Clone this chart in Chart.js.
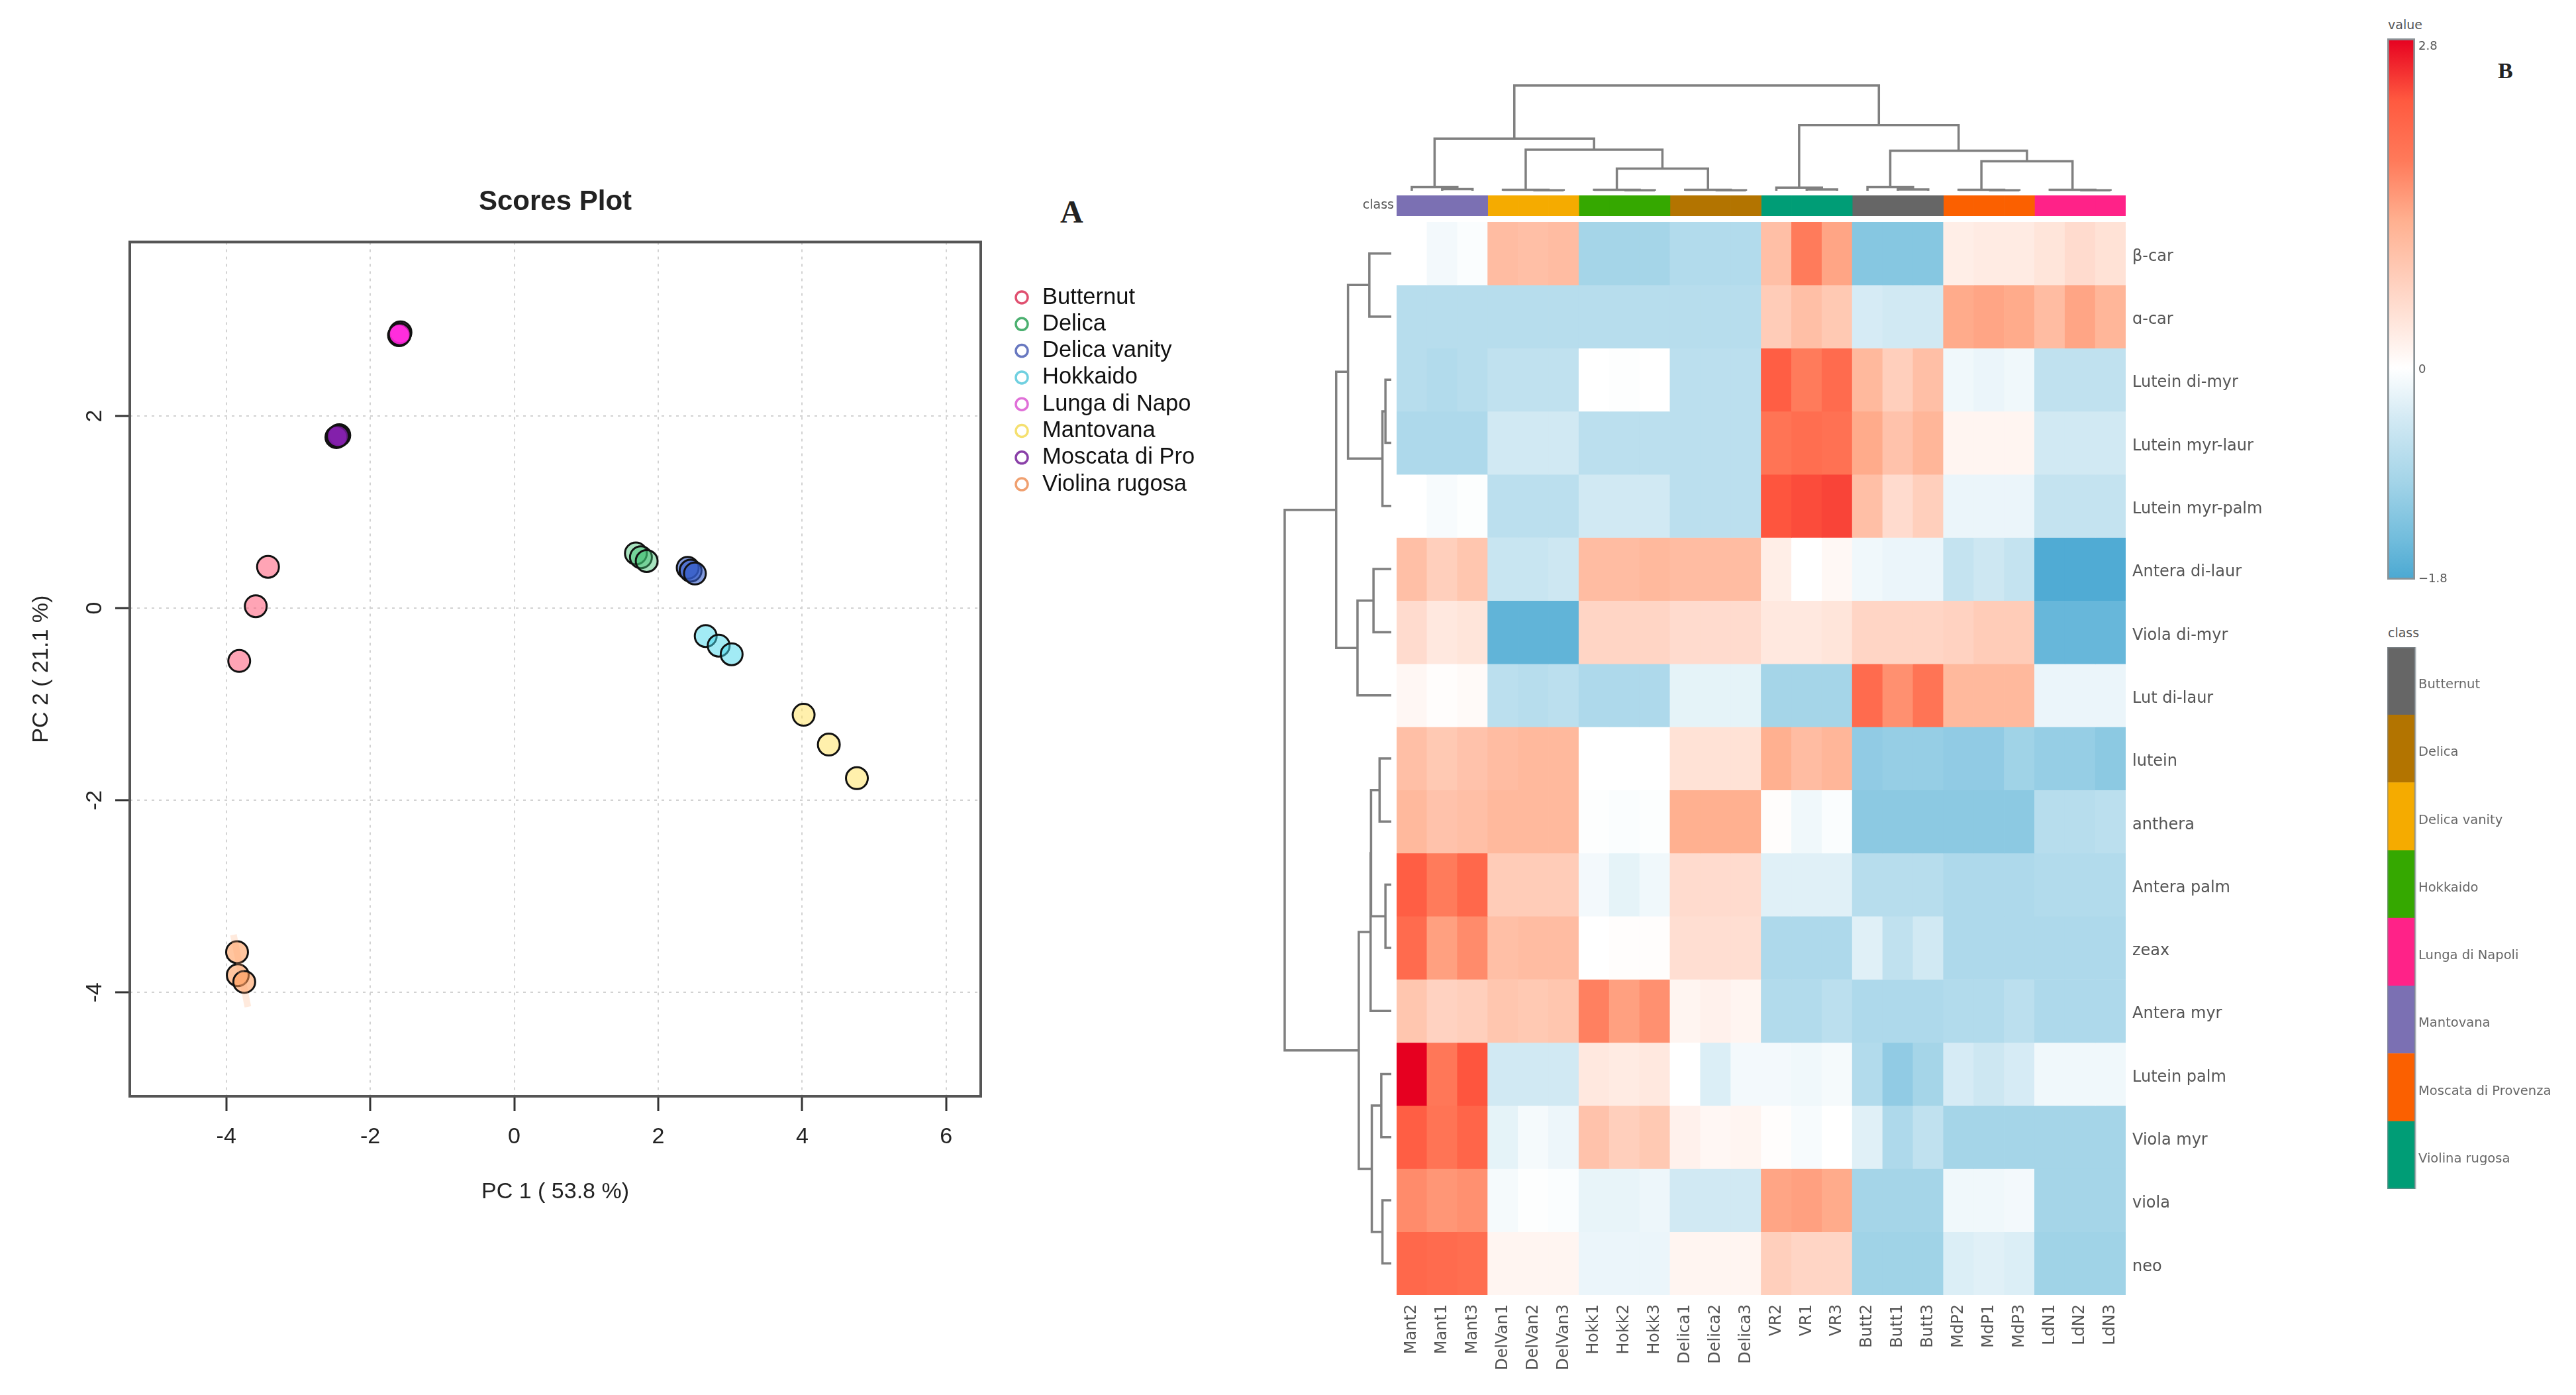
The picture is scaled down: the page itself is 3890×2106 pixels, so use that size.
<!DOCTYPE html>
<html>
<head>
<meta charset="utf-8">
<title>Scores plot and heatmap</title>
<script src="https://cdn.jsdelivr.net/npm/chart.js@4"></script>
<style>
  html, body { margin: 0; width: 3890px; height: 2106px; background: #fff; overflow: hidden; }
  canvas { position: absolute; }
  .note { position: absolute; white-space: nowrap; line-height: 1; }
  .panel { font: bold 48px "Liberation Serif"; color: #222; }
  .small { font: 19px "DejaVu Sans"; color: #555; }
</style>
</head>
<body>
<div class="note panel" style="left:1601px;top:292px">A</div>
<div class="note panel" style="left:3772px;top:88px;font-size:34px">B</div>
<div class="note small" style="left:3606px;top:26px">value</div>
<div class="note small" style="left:3606px;top:944px">class</div>
<script>
// scores plot
const seriesNames = ['Butternut', 'Delica', 'Delica vanity', 'Hokkaido', 'Lunga di Napo', 'Mantovana', 'Moscata di Pro', 'Violina rugosa'];
const butternutX = [-3.42, -3.59, -3.82];
const butternutY = [0.43, 0.02, -0.55];
const delicaX = [1.69, 1.76, 1.84];
const delicaY = [0.57, 0.53, 0.49];
const vanityX = [2.41, 2.45, 2.51];
const vanityY = [0.42, 0.39, 0.36];
const hokkaidoX = [2.66, 2.84, 3.02];
const hokkaidoY = [-0.29, -0.39, -0.48];
const lungaX = [-1.58, -1.6, -1.59];
const lungaY = [2.87, 2.84, 2.85];
const mantovanaX = [4.02, 4.37, 4.76];
const mantovanaY = [-1.11, -1.42, -1.77];
const moscataX = [-2.43, -2.47, -2.45];
const moscataY = [1.8, 1.78, 1.79];
const violinaX = [-3.85, -3.84, -3.75];
const violinaY = [-3.58, -3.82, -3.89];
const violinaSpreadX = [-3.9, -3.7];
const violinaSpreadY = [-3.4, -4.15];
const scoreXTicks = [-4, -2, 0, 2, 4, 6];
const scoreYTicks = [-4, -2, 0, 2];
const seriesFills = ['rgba(255,90,120,.55)', 'rgba(60,190,110,.45)', 'rgba(50,90,200,.6)', 'rgba(70,215,235,.5)',
  'rgba(255,40,220,.7)', 'rgba(255,225,90,.5)', 'rgba(130,30,170,.75)', 'rgba(255,150,80,.55)'];
const seriesRings = ['#e05070', '#4cb070', '#6878c0', '#70d0e0', '#e070d8', '#f5e070', '#8a40a8', '#f0a070'];

// heatmap
const columnNames = ['Mant2', 'Mant1', 'Mant3', 'DelVan1', 'DelVan2', 'DelVan3', 'Hokk1', 'Hokk2', 'Hokk3', 'Delica1', 'Delica2', 'Delica3',
  'VR2', 'VR1', 'VR3', 'Butt2', 'Butt1', 'Butt3', 'MdP2', 'MdP1', 'MdP3', 'LdN1', 'LdN2', 'LdN3'];
const rowNames = ['β-car', 'ɑ-car', 'Lutein di-myr', 'Lutein myr-laur', 'Lutein myr-palm', 'Antera di-laur', 'Viola di-myr', 'Lut di-laur',
  'lutein', 'anthera', 'Antera palm', 'zeax', 'Antera myr', 'Lutein palm', 'Viola myr', 'viola', 'neo'];
const betaCar = [0, -.12, -.05, 1.05, 1, 1.05, -.95, -.95, -.95, -.8, -.8, -.8, 1, 1.75, 1.35, -1.25, -1.25, -1.25, .25, .3, .3, .4, .55, .45];
const alphaCar = [-.75, -.75, -.75, -.75, -.75, -.75, -.75, -.75, -.75, -.75, -.75, -.75, .8, 1, .85, -.4, -.45, -.45, 1.3, 1.35, 1.3, 1.05, 1.35, 1.15];
const luteinDiMyr = [-.75, -.8, -.75, -.65, -.65, -.65, 0, -.02, 0, -.7, -.7, -.7, 2.2, 1.75, 2, 1.1, .75, 1, -.15, -.2, -.15, -.65, -.65, -.65];
const luteinMyrLaur = [-.85, -.85, -.85, -.45, -.45, -.45, -.7, -.7, -.7, -.7, -.7, -.7, 1.85, 1.95, 1.9, 1.3, .95, 1.15, .15, .15, .15, -.45, -.45, -.45];
const luteinMyrPalm = [0, -.08, -.03, -.7, -.7, -.7, -.45, -.45, -.45, -.7, -.7, -.7, 2.3, 2.35, 2.4, 1, .55, .75, -.2, -.2, -.2, -.6, -.6, -.6];
const anteraDiLaur = [1, .75, .9, -.55, -.55, -.5, 1.05, 1.05, 1.1, 1.05, 1.05, 1.05, .25, 0, .1, -.15, -.2, -.2, -.6, -.5, -.6, -1.75, -1.75, -1.75];
const violaDiMyr = [.55, .35, .4, -1.6, -1.6, -1.6, .65, .65, .65, .55, .55, .55, .35, .35, .4, .65, .65, .65, .7, .8, .8, -1.55, -1.55, -1.55];
const lutDiLaur = [.12, .03, .07, -.7, -.75, -.7, -.85, -.85, -.85, -.25, -.25, -.25, -.95, -.95, -.95, 2, 1.55, 1.85, 1.1, 1.1, 1.1, -.2, -.2, -.2];
const luteinFree = [1, .85, .95, 1.05, 1.1, 1.1, 0, 0, 0, .45, .45, .45, 1.25, 1.05, 1.15, -1.15, -1.1, -1.1, -1.15, -1.15, -1, -1.1, -1.1, -1.2];
const antheraFree = [1.1, .95, 1, 1.1, 1.1, 1.1, -.02, -.05, -.03, 1.25, 1.25, 1.25, .03, -.15, -.05, -1.2, -1.2, -1.2, -1.2, -1.2, -1.2, -.75, -.75, -.7];
const anteraPalm = [2.2, 1.75, 2.05, .8, .8, .8, -.12, -.25, -.15, .55, .55, .55, -.3, -.3, -.3, -.75, -.75, -.75, -.85, -.85, -.85, -.8, -.8, -.8];
const zeax = [2, 1.4, 1.6, 1, 1.05, 1.05, 0, .03, .03, .5, .5, .5, -.85, -.85, -.85, -.3, -.65, -.45, -.85, -.85, -.85, -.85, -.85, -.85];
const anteraMyr = [.9, .7, .75, .9, .85, .9, 1.7, 1.4, 1.55, .15, .2, .15, -.8, -.8, -.7, -.85, -.85, -.85, -.8, -.8, -.7, -.85, -.85, -.85];
const luteinPalm = [2.8, 1.8, 2.3, -.45, -.45, -.45, .35, .3, .35, 0, -.35, -.12, -.12, -.15, -.1, -.8, -1.15, -.95, -.4, -.5, -.4, -.15, -.15, -.15];
const violaMyr = [2.2, 1.85, 2.1, -.25, -.1, -.18, .95, .75, .85, .2, .12, .15, .03, -.08, 0, -.3, -.85, -.65, -.95, -.95, -.95, -.95, -.95, -.95];
const violaFree = [1.6, 1.5, 1.55, -.1, -.02, -.05, -.22, -.22, -.18, -.45, -.45, -.45, 1.35, 1.4, 1.3, -.95, -.95, -.95, -.15, -.15, -.12, -.95, -.95, -.95];
const neo = [2.05, 2, 1.95, .15, .15, .15, -.2, -.2, -.2, .15, .15, .15, .75, .65, .65, -1, -1, -1, -.35, -.3, -.35, -1, -1, -1];
const heatRows = [betaCar, alphaCar, luteinDiMyr, luteinMyrLaur, luteinMyrPalm, anteraDiLaur, violaDiMyr, lutDiLaur,
  luteinFree, antheraFree, anteraPalm, zeax, anteraMyr, luteinPalm, violaMyr, violaFree, neo];

// colour scale: value stops and their colours
const scaleValues = [-1.8, -1.47, -.97, -.42, 0, .22, .73, 1.25, 1.76, 2.27, 2.8];
const scaleColors = [[74, 168, 210], [112, 188, 220], [163, 212, 232], [212, 234, 244], [255, 255, 255], [255, 240, 234],
  [255, 208, 190], [255, 176, 144], [255, 122, 90], [255, 90, 64], [230, 0, 32]];
const scaleTicks = [-1.78, 0, 2.75];
const scaleTickLabels = ['−1.8', '0', '2.8'];

// classes: sample groups along the top bar, class legend below the colour bar
const classNames = ['Butternut', 'Delica', 'Delica vanity', 'Hokkaido', 'Lunga di Napoli', 'Mantovana', 'Moscata di Provenza', 'Violina rugosa'];
const classColors = ['#666666', '#b37400', '#f5ab00', '#35a800', '#ff2288', '#7b70b3', '#fb6000', '#009d76'];
const columnClasses = [5, 5, 5, 2, 2, 2, 3, 3, 3, 1, 1, 1, 7, 7, 7, 0, 0, 0, 6, 6, 6, 4, 4, 4];

// dendrograms: [height, left, right], a plain number is a column or row index
const columnTree = [10,
  [4.96, [.35, 0, [.15, 1, 2]], [3.9, [.1, 3, [.05, 4, 5]], [2.1, [.1, 6, [.05, 7, 8]], [.1, 9, [.05, 10, 11]]]]],
  [6.25, [.3, 12, [.12, 13, 14]], [3.8, [.35, 15, [.12, 16, 17]], [2.8, [.1, 18, [.05, 19, 20]], [.1, 21, [.05, 22, 23]]]]]];
const rowTree = [10,
  [5.17,
    [4.06, [2.06, 0, 1], [.83, [.55, 2, 3], 4]],
    [3.17, [1.67, 5, 6], 7]],
  [3.05,
    [1.94, [1.9, [1.1, 8, 9], [.55, 10, 11]], 12],
    [1.83, [.94, 13, 14], [.83, 15, 16]]]];

Chart.defaults.animation = false;
Chart.defaults.responsive = false;
Chart.defaults.devicePixelRatio = 1;
Chart.defaults.plugins.legend.display = false;
Chart.defaults.plugins.tooltip.enabled = false;

function addCanvas(left, top, width, height) {
  const canvas = document.createElement('canvas');
  canvas.width = width;
  canvas.height = height;
  canvas.style.left = left + 'px';
  canvas.style.top = top + 'px';
  document.body.appendChild(canvas);
  return canvas;
}

function heatColor(value) {
  let i = 0;
  while (i < scaleValues.length - 2 && value > scaleValues[i + 1]) i++;
  const t = (value - scaleValues[i]) / (scaleValues[i + 1] - scaleValues[i]);
  const rgb = scaleColors[i].map((c, k) => Math.round(c + (scaleColors[i + 1][k] - c) * t));
  return `rgb(${rgb.join(',')})`;
}

// walks a tree, returns the bracket paths split by NaN points
function treePoints(node, points) {
  if (typeof node === 'number') return { pos: node + 0.5, h: 0 };
  const a = treePoints(node[1], points);
  const b = treePoints(node[2], points);
  points.push([a.pos, a.h], [a.pos, node[0]], [b.pos, node[0]], [b.pos, b.h], [NaN, NaN]);
  return { pos: (a.pos + b.pos) / 2, h: node[0] };
}

// pins the axis box and drops the margins Chart.js keeps for overhanging labels
function fixedSize(size) {
  return scale => {
    if (scale.isHorizontal()) scale.height = size;
    else scale.width = size;
    scale.paddingTop = scale.paddingBottom = scale.paddingLeft = scale.paddingRight = 0;
  };
}

const plotBox = {
  id: 'plotBox',
  afterDraw(chart, args, opts) {
    const { ctx, chartArea: a } = chart;
    ctx.save();
    ctx.strokeStyle = opts.color;
    ctx.lineWidth = opts.width;
    ctx.strokeRect(a.left, a.top, a.right - a.left, a.bottom - a.top);
    ctx.restore();
  }
};

const ringLegend = {
  id: 'ringLegend',
  afterDraw(chart) {
    const ctx = chart.ctx;
    ctx.save();
    ctx.font = '34.5px "Liberation Sans"';
    ctx.textBaseline = 'middle';
    seriesNames.forEach((name, i) => {
      const y = 449 + i * 40.3;
      ctx.beginPath();
      ctx.arc(1543, y, 9, 0, Math.PI * 2);
      ctx.lineWidth = 3.5;
      ctx.strokeStyle = seriesRings[i];
      ctx.stroke();
      ctx.fillStyle = '#111';
      ctx.fillText(name, 1574, y);
    });
    ctx.restore();
  }
};

// scores plot
const scoreSeries = [[butternutX, butternutY], [delicaX, delicaY], [vanityX, vanityY], [hokkaidoX, hokkaidoY],
  [lungaX, lungaY], [mantovanaX, mantovanaY], [moscataX, moscataY], [violinaX, violinaY]];
const scoreDatasets = scoreSeries.map(([xs, ys], i) => ({
  label: seriesNames[i],
  data: xs.map((x, k) => ({ x, y: ys[k] })),
  backgroundColor: seriesFills[i],
  borderColor: '#111',
  borderWidth: 3,
  pointRadius: 16.5
}));
scoreDatasets.unshift({
  data: violinaSpreadX.map((x, k) => ({ x, y: violinaSpreadY[k] })),
  showLine: true,
  borderColor: 'rgba(255,170,120,.25)',
  borderWidth: 10,
  pointRadius: 0
});

const gridStyle = { color: '#d2d2d2', lineWidth: 2, tickColor: '#333', tickWidth: 3, tickLength: 22, tickBorderDash: [] };
const scoreFont = { family: 'Liberation Sans', size: 34 };

new Chart(addCanvas(0, 0, 1820, 1900), {
  type: 'scatter',
  data: { datasets: scoreDatasets },
  plugins: [plotBox, ringLegend],
  options: {
    layout: { padding: { top: 280, right: 339 } },
    plugins: {
      plotBox: { color: '#555', width: 4 },
      title: {
        display: true, text: 'Scores Plot', fullSize: false, color: '#222',
        font: { family: 'Liberation Sans', size: 42, weight: 'bold' },
        padding: { top: 0, bottom: 35 }
      }
    },
    scales: {
      x: {
        type: 'linear', min: -5.34, max: 6.48,
        afterBuildTicks: s => { s.ticks = scoreXTicks.map(value => ({ value })); },
        afterFit: fixedSize(245),
        grid: gridStyle,
        border: { display: false, dash: [4, 7] },
        ticks: { color: '#222', padding: 19, font: scoreFont, maxRotation: 0 },
        title: { display: true, text: 'PC 1 ( 53.8 %)', color: '#222', font: scoreFont, padding: { top: 0, bottom: 80 } }
      },
      y: {
        type: 'linear', min: -5.08, max: 3.81,
        afterBuildTicks: s => { s.ticks = scoreYTicks.map(value => ({ value })); },
        afterFit: fixedSize(196),
        grid: gridStyle,
        border: { display: false, dash: [4, 7] },
        ticks: { color: '#222', padding: 15, crossAlign: 'center', minRotation: 90, maxRotation: 90, font: scoreFont },
        title: { display: true, text: 'PC 2 ( 21.1 %)', color: '#222', font: scoreFont, padding: { top: 42, bottom: 0 } }
      }
    }
  }
});

// heatmap cells, stacked one unit per row
const axisFont = { family: 'DejaVu Sans', size: 24 };
new Chart(addCanvas(2109, 335, 1421, 1770), {
  type: 'bar',
  data: {
    labels: columnNames,
    datasets: heatRows.map((values, r) => ({
      label: rowNames[r],
      data: values.map(() => 1),
      backgroundColor: values.map(heatColor),
      barPercentage: 1,
      categoryPercentage: 1
    }))
  },
  options: {
    scales: {
      x: {
        stacked: true,
        afterFit: fixedSize(150),
        grid: { display: false, drawTicks: false },
        border: { display: false },
        ticks: { autoSkip: false, minRotation: 90, maxRotation: 90, padding: 14, color: '#555', font: axisFont }
      },
      y: { stacked: true, display: false, min: 0, max: rowNames.length, reverse: true },
      rowAxis: {
        type: 'category', labels: rowNames, position: 'right', offset: true,
        afterFit: fixedSize(320),
        grid: { display: false, drawTicks: false },
        border: { display: false },
        ticks: { autoSkip: false, padding: 10, labelOffset: 5, color: '#555', font: axisFont }
      }
    }
  }
});

// class bar above the heatmap
new Chart(addCanvas(2029, 295, 1181, 31), {
  type: 'bar',
  data: {
    labels: ['class'],
    datasets: columnClasses.map((c, i) => ({
      label: columnNames[i],
      data: [1],
      backgroundColor: classColors[c],
      barPercentage: 1,
      categoryPercentage: 1
    }))
  },
  options: {
    indexAxis: 'y',
    scales: {
      x: { stacked: true, display: false, min: 0, max: columnNames.length },
      y: {
        stacked: true,
        afterFit: fixedSize(80),
        grid: { display: false, drawTicks: false },
        border: { display: false },
        ticks: { color: '#555', padding: 4, font: { family: 'DejaVu Sans', size: 19 } }
      }
    }
  }
});

// dendrograms
function dendroOptions(xScale, yScale) {
  return {
    layout: { padding: 4 },
    scales: {
      x: Object.assign({ type: 'linear', display: false }, xScale),
      y: Object.assign({ type: 'linear', display: false }, yScale)
    }
  };
}
function dendroDataset(points) {
  return { data: points, showLine: true, clip: false, pointRadius: 0, borderColor: '#808080', borderWidth: 3.5, borderJoinStyle: 'miter' };
}

const columnPaths = [];
treePoints(columnTree, columnPaths);
new Chart(addCanvas(2105, 125, 1109, 167), {
  type: 'scatter',
  data: { datasets: [dendroDataset(columnPaths.map(([pos, h]) => ({ x: pos, y: h })))] },
  options: dendroOptions({ min: 0, max: columnNames.length }, { min: 0, max: 10 })
});

const rowPaths = [];
treePoints(rowTree, rowPaths);
new Chart(addCanvas(1936, 331, 169, 1628), {
  type: 'scatter',
  data: { datasets: [dendroDataset(rowPaths.map(([pos, h]) => ({ x: h, y: pos })))] },
  options: dendroOptions({ min: 0, max: 10, reverse: true }, { min: 0, max: rowNames.length, reverse: true })
});

// colour bar
new Chart(addCanvas(3601, 54, 124, 825), {
  type: 'bar',
  data: {
    labels: ['value'],
    datasets: [{
      data: [[scaleValues[0], scaleValues[scaleValues.length - 1]]],
      barPercentage: 1,
      categoryPercentage: 1,
      borderColor: '#8a9296',
      borderWidth: 3,
      borderSkipped: false,
      backgroundColor: ctx => {
        const area = ctx.chart.chartArea;
        if (!area) return '#fff';
        const grad = ctx.chart.ctx.createLinearGradient(0, area.bottom, 0, area.top);
        const lo = scaleValues[0];
        const hi = scaleValues[scaleValues.length - 1];
        scaleValues.forEach(v => grad.addColorStop((v - lo) / (hi - lo), heatColor(v)));
        return grad;
      }
    }]
  },
  options: {
    layout: { padding: { left: 4, top: 4, bottom: 4 } },
    scales: {
      x: { display: false },
      y: {
        position: 'right', min: scaleValues[0], max: scaleValues[scaleValues.length - 1],
        afterBuildTicks: s => { s.ticks = scaleTicks.map(value => ({ value })); },
        afterFit: fixedSize(78),
        grid: { display: false, drawTicks: false },
        border: { display: false },
        ticks: {
          color: '#555', padding: 5, labelOffset: 3, font: { family: 'DejaVu Sans', size: 18 },
          callback: v => scaleTickLabels[scaleTicks.indexOf(v)]
        }
      }
    }
  }
});

// class legend
new Chart(addCanvas(3605, 977, 285, 818), {
  type: 'bar',
  data: {
    labels: classNames,
    datasets: [{ data: classNames.map(() => 1), backgroundColor: classColors, barPercentage: 1, categoryPercentage: 1 }]
  },
  plugins: [plotBox],
  options: {
    indexAxis: 'y',
    plugins: { plotBox: { color: 'rgba(130,140,145,.7)', width: 3 } },
    scales: {
      x: { display: false, min: 0, max: 1 },
      y: {
        position: 'right',
        afterFit: fixedSize(243),
        grid: { display: false, drawTicks: false },
        border: { display: false },
        ticks: { autoSkip: false, color: '#666', padding: 5, labelOffset: 6, font: { family: 'DejaVu Sans', size: 19.5 } }
      }
    }
  }
});
</script>
</body>
</html>
